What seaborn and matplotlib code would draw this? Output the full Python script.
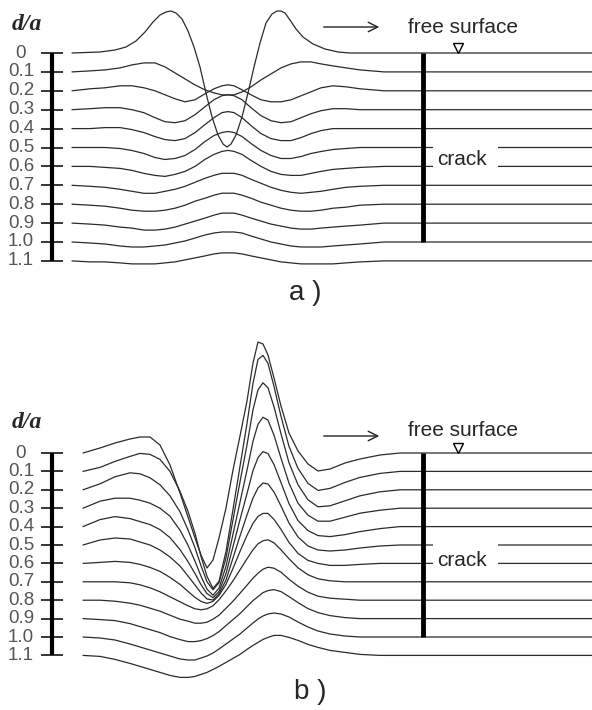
import pandas as pd
import seaborn as sns
import matplotlib.pyplot as plt
from matplotlib.patches import Rectangle

sns.set_theme(style="white")
plt.rcParams['font.family'] = ['Liberation Sans', 'DejaVu Sans']

# depth of each receiver line, d/a
depth = [0.0, 0.1, 0.2, 0.3, 0.4, 0.5, 0.6, 0.7, 0.8, 0.9, 1.0, 1.1]
depth_labels = ["0", "0.1", "0.2", "0.3", "0.4", "0.5", "0.6", "0.7", "0.8", "0.9", "1.0", "1.1"]

# ---- panel a) : positions x/a and wave amplitudes
xa_surf = [-1.56, -1.28, -1.13, -1.02, -0.92, -0.83, -0.75, -0.68, -0.62, -0.57, -0.52, -0.46, -0.40, -0.34,
           -0.28, -0.22, -0.16, -0.10, -0.05, -0.01, 0.03, 0.08, 0.14, 0.20, 0.26, 0.32, 0.38, 0.44, 0.49, 0.53,
           0.57, 0.62, 0.68, 0.75, 0.85, 0.97, 1.10, 1.22, 3.64]
a00 = [0, 1, 3, 6, 12, 21, 31, 38, 41, 42, 40, 34, 22, 6, -14, -40, -64, -82, -91, -94,
       -91, -82, -64, -40, -14, 10, 30, 39, 42, 42, 40, 33, 24, 16, 9, 4, 1, 0, 0]

xa = [-1.56, -1.38, -1.23, -1.08, -0.96, -0.84, -0.73, -0.63, -0.53, -0.43, -0.33, -0.23, -0.14, -0.06, 0.0,
      0.06, 0.14, 0.23, 0.33, 0.43, 0.53, 0.63, 0.73, 0.83, 0.93, 1.05, 1.18, 1.32, 1.56, 3.64]
a01 = [0, 1, 2, 4, 7, 9, 9, 5, -1, -7, -13, -18, -21, -23, -23, -23, -20, -15, -8, -2, 4, 8, 10, 10, 8, 6, 4, 2, 0, 0]
a02 = [0, 2, 3, 5, 5, 3, 0, -4, -8, -11, -9, -3, 2, 5, 6, 5, 1, -4, -9, -11, -11, -9, -5, -1, 3, 5, 4, 2, 0, 0]
a03 = [0, 1, 2, 2, 0, -3, -8, -12, -13, -11, -5, 3, 10, 14, 15, 14, 10, 2, -6, -11, -13, -12, -8, -4, -1, 1, 1, 0, 0, 0]
a04 = [0, 0, 1, 1, -1, -4, -8, -11, -12, -10, -4, 4, 11, 16, 17, 16, 11, 3, -5, -10, -12, -12, -9, -5, -2, 0, 0, 0, 0, 0]
a05 = [0, 0, 0, -1, -3, -6, -10, -12, -11, -8, -2, 6, 12, 15, 16, 15, 11, 4, -3, -8, -11, -11, -9, -6, -4, -2, -1, 0, 0, 0]
a06 = [0, 0, -1, -2, -4, -7, -9, -10, -8, -5, 0, 7, 12, 15, 16, 15, 12, 6, 0, -5, -8, -9, -9, -7, -5, -3, -2, -1, 0, 0]
a07 = [0, -1, -2, -4, -6, -8, -8, -6, -4, -1, 3, 7, 10, 12, 12, 12, 10, 6, 2, -2, -5, -7, -8, -7, -6, -4, -2, -1, 0, 0]
a08 = [0, -1, -2, -4, -6, -7, -7, -6, -4, -1, 3, 6, 9, 11, 11, 11, 9, 6, 2, -1, -4, -6, -7, -7, -6, -4, -3, -1, 0, 0]
a09 = [0, -1, -2, -4, -5, -7, -7, -6, -4, -1, 2, 5, 8, 10, 10, 10, 8, 5, 2, -1, -3, -5, -6, -6, -5, -4, -3, -2, 0, 0]
a10 = [0, -1, -2, -4, -5, -5, -4, -3, -1, 1, 4, 7, 9, 10, 10, 10, 9, 6, 3, 0, -2, -4, -5, -5, -5, -4, -3, -2, 0, 0]
a11 = [0, -1, -1, -2, -3, -3, -3, -2, -1, 1, 3, 5, 7, 8, 8, 8, 7, 5, 3, 1, -1, -2, -3, -3, -3, -3, -2, -1, 0, 0]

# ---- panel b)
xb = [-1.45, -1.28, -1.13, -0.98, -0.88, -0.78, -0.68, -0.58, -0.48, -0.40, -0.33, -0.27, -0.21, -0.15, -0.09,
      -0.02, 0.05, 0.12, 0.19, 0.25, 0.30, 0.35, 0.40, 0.46, 0.53, 0.61, 0.70, 0.80, 0.90, 1.02, 1.17, 1.32,
      1.52, 1.72, 3.64]
b00 = [0, 5, 10, 14, 16, 16, 8, -12, -40, -64, -85, -102, -115, -107, -85, -55, -17, 17, 52, 90,
       111, 109, 98, 75, 47, 20, 2, -11, -18, -16, -10, -6, -2, 0, 0]
b01 = [0, 4, 10, 15, 18, 17, 12, 0, -20, -40, -62, -85, -105, -117, -110, -80, -38, 5, 48, 88,
       112, 116, 108, 85, 55, 25, 3, -12, -19, -17, -11, -6, -2, 0, 0]
b02 = [0, 6, 13, 17, 16, 12, 5, -6, -22, -40, -58, -76, -92, -100, -93, -68, -30, 8, 45, 80,
       100, 107, 102, 83, 56, 27, 5, -10, -17, -16, -11, -6, -2, 0, 0]
b03 = [0, 7, 10, 10, 8, 5, 0, -8, -22, -37, -53, -68, -81, -87, -80, -58, -26, 6, 38, 67,
       84, 91, 88, 73, 50, 25, 5, -7, -13, -13, -9, -5, -2, 0, 0]
b04 = [0, 7, 10, 8, 5, 2, -3, -11, -23, -35, -47, -58, -67, -71, -65, -47, -20, 7, 33, 56,
       69, 75, 73, 62, 44, 23, 6, -4, -9, -10, -8, -5, -2, 0, 0]
b05 = [0, 5, 7, 6, 3, 0, -5, -12, -21, -31, -40, -48, -54, -55, -49, -35, -13, 9, 30, 47,
       57, 62, 61, 53, 39, 22, 8, -1, -5, -6, -5, -3, -1, 0, 0]
b06 = [0, 1, 2, 1, -1, -4, -8, -14, -21, -28, -34, -38, -40, -38, -32, -21, -5, 12, 28, 40,
       47, 50, 50, 44, 34, 21, 10, 3, 0, -2, -2, -1, 0, 0, 0]
b07 = [0, 0, 0, -1, -3, -6, -10, -15, -20, -24, -27, -28, -27, -24, -18, -9, 1, 12, 23, 32,
       38, 41, 42, 39, 32, 23, 14, 7, 3, 1, 0, 0, 0, 0, 0]
b08 = [0, 0, -1, -3, -5, -8, -11, -15, -19, -21, -23, -23, -22, -19, -15, -8, -1, 7, 15, 22,
       27, 31, 33, 32, 28, 21, 14, 8, 4, 2, 1, 0, 0, 0, 0]
b09 = [0, -1, -2, -5, -8, -11, -14, -18, -21, -23, -23, -22, -20, -17, -13, -7, -1, 5, 12, 18,
       22, 26, 28, 29, 27, 22, 16, 10, 6, 3, 1, 0, 0, 0, 0]
b10 = [0, -1, -3, -7, -10, -13, -16, -19, -22, -23, -23, -21, -19, -16, -12, -7, -2, 3, 9, 14,
       18, 21, 23, 24, 23, 20, 15, 10, 6, 3, 1, 0, 0, 0, 0]
b11 = [0, -1, -4, -8, -11, -14, -17, -20, -22, -22, -21, -19, -17, -14, -11, -7, -3, 1, 6, 10,
       13, 16, 18, 20, 20, 18, 15, 11, 8, 5, 3, 1, 0, 0, 0]


def X(px):
    return (px - 228) / 100.0


def long_frame(xs, amps, spp):
    rows = []
    for x, a, d in zip(xs, amps, depth):
        for xi, ai in zip(x, a):
            rows.append((d, xi, d - ai / spp))
    return pd.DataFrame(rows, columns=["depth", "x", "y"])


def draw_panel(ax, df, y0, spp, top, bottom, txt):
    Y = lambda py: (py - y0) / spp
    sns.lineplot(data=df, x="x", y="y", units="depth", estimator=None, sort=False,
                 color="#2b2b2b", linewidth=0.9, legend=False, ax=ax)
    # depth scale on the left
    ax.plot([X(52), X(52)], [0, 1.1], color="black", lw=3, solid_capstyle="butt")
    ax.hlines(depth, X(41), X(63), color="black", lw=1.1)
    for d, lab in zip(depth, depth_labels):
        ax.text(X(21), d, lab, ha="center", va="center", fontsize=13.5, color="#555555")
    ax.text(X(12), Y(txt["da"]), "d/a", family="Liberation Serif", style="italic", weight="bold",
            fontsize=17, ha="left", va="baseline")
    # crack
    ax.plot([X(423), X(423)], [0, 1.0], color="black", lw=3.5, solid_capstyle="butt", zorder=6)
    ax.add_patch(Rectangle((X(433), 0.45), X(498) - X(433), 0.2, fc="white", ec="none", zorder=3))
    ax.text(X(437), Y(txt["crack"]), "crack", fontsize=15, va="baseline", zorder=5)
    # free surface + wave direction
    ax.text(X(408), Y(txt["free"]), "free surface", fontsize=15, va="baseline")
    ax.annotate("", xy=(X(382), Y(txt["arrow"])), xytext=(X(321), Y(txt["arrow"])),
                arrowprops=dict(arrowstyle="->", lw=1.0, color="#222222", mutation_scale=17))
    ax.plot(X(458), -5 / spp, marker="v", ms=7, mfc="white", mec="black", mew=1.0)
    ax.set_xlim(X(0), X(592))
    ax.set_ylim(Y(bottom), Y(top))
    ax.set_axis_off()


fig = plt.figure(figsize=(5.92, 7.10), dpi=100)
H = 710.0
axa = fig.add_axes([0, 1 - 300 / H, 1, 300 / H])
axb = fig.add_axes([0, 0, 1, 400 / H])

dfa = long_frame([xa_surf] + [xa] * 11,
                 [a00, a01, a02, a03, a04, a05, a06, a07, a08, a09, a10, a11], 189.0)
dfb = long_frame([xb] * 12, [b00, b01, b02, b03, b04, b05, b06, b07, b08, b09, b10, b11], 184.0)

draw_panel(axa, dfa, 53, 189.0, 0, 300, dict(da=30, crack=165, free=33, arrow=27))
draw_panel(axb, dfb, 453, 184.0, 310, 710, dict(da=428, crack=566, free=436, arrow=436))

fig.text(305 / 592, 1 - 293 / H, "a )", ha="center", va="center", fontsize=20)
fig.text(310 / 592, 1 - 692 / H, "b )", ha="center", va="center", fontsize=20)

fig.savefig("out.png", dpi=100, facecolor="white")
